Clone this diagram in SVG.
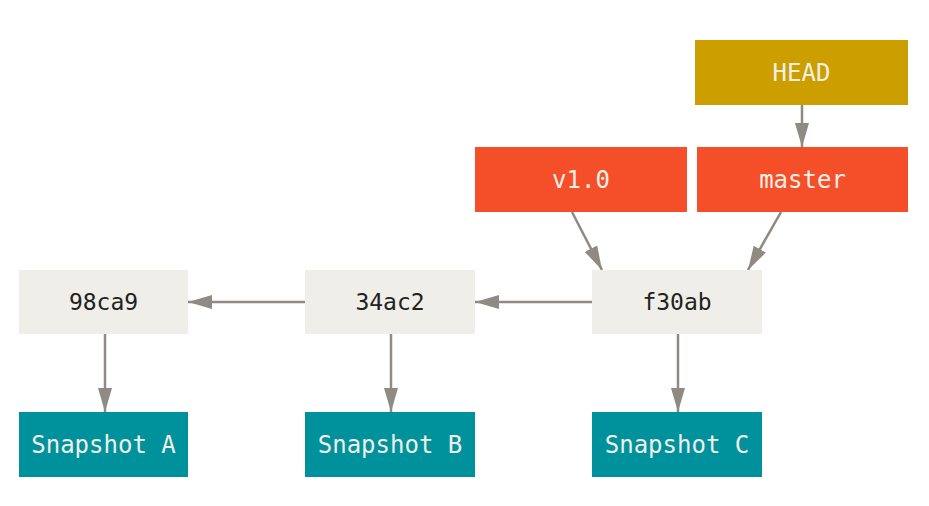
<svg xmlns="http://www.w3.org/2000/svg" width="929" height="506" viewBox="0 0 929 506">
<style>
text{font-family:"DejaVu Sans Mono","Liberation Mono",monospace;font-size:24px;text-anchor:middle}
.commit rect{fill:#efeee8}
.commit text{fill:#222;font-size:23px}
.snap rect{fill:#00929c}
.snap text{fill:#f0efe7}
.ref rect{fill:#f54f2a}
.ref text{fill:#f3f0e8}
.head rect{fill:#cc9e00}
.head text{fill:#f3f0e8}
.edge{stroke:#8f8a83;stroke-width:2.5;fill:none;marker-end:url(#ah)}
</style>
<defs>
<marker id="ah" viewBox="0 0 24 14" refX="24" refY="7" markerWidth="24" markerHeight="14" markerUnits="userSpaceOnUse" orient="auto">
<path d="M0,0 L24,7 L0,14 Z" fill="#8f8a83"/>
</marker>
</defs>
<rect width="929" height="506" fill="#fff"/>
<g id="connectors">
<line class="edge" x1="305" y1="302" x2="188" y2="302"/>
<line class="edge" x1="592" y1="302" x2="475" y2="302"/>
<line class="edge" x1="105" y1="334" x2="105" y2="412"/>
<line class="edge" x1="391" y1="334" x2="391" y2="412"/>
<line class="edge" x1="678" y1="334" x2="678" y2="412"/>
<line class="edge" x1="802" y1="105" x2="802" y2="147"/>
<line class="edge" x1="572" y1="212" x2="602" y2="270"/>
<line class="edge" x1="781" y1="212" x2="748" y2="270"/>
</g>
<g id="head" class="head"><rect x="695" y="40" width="213" height="65"/><text x="801.5" y="81">HEAD</text></g>
<g id="v10" class="ref"><rect x="475" y="147" width="212" height="65"/><text x="581" y="188">v1.0</text></g>
<g id="master" class="ref"><rect x="697" y="147" width="211" height="65"/><text x="802.5" y="188">master</text></g>
<g id="c98ca9" class="commit"><rect x="19" y="270" width="169" height="64"/><text x="103.5" y="310">98ca9</text></g>
<g id="c34ac2" class="commit"><rect x="305" y="270" width="170" height="64"/><text x="390" y="310">34ac2</text></g>
<g id="cf30ab" class="commit"><rect x="592" y="270" width="170" height="64"/><text x="677" y="310">f30ab</text></g>
<g id="snapA" class="snap"><rect x="19" y="412" width="169" height="65"/><text x="103.5" y="453">Snapshot A</text></g>
<g id="snapB" class="snap"><rect x="305" y="412" width="170" height="65"/><text x="390" y="453">Snapshot B</text></g>
<g id="snapC" class="snap"><rect x="592" y="412" width="170" height="65"/><text x="677" y="453">Snapshot C</text></g>
</svg>
